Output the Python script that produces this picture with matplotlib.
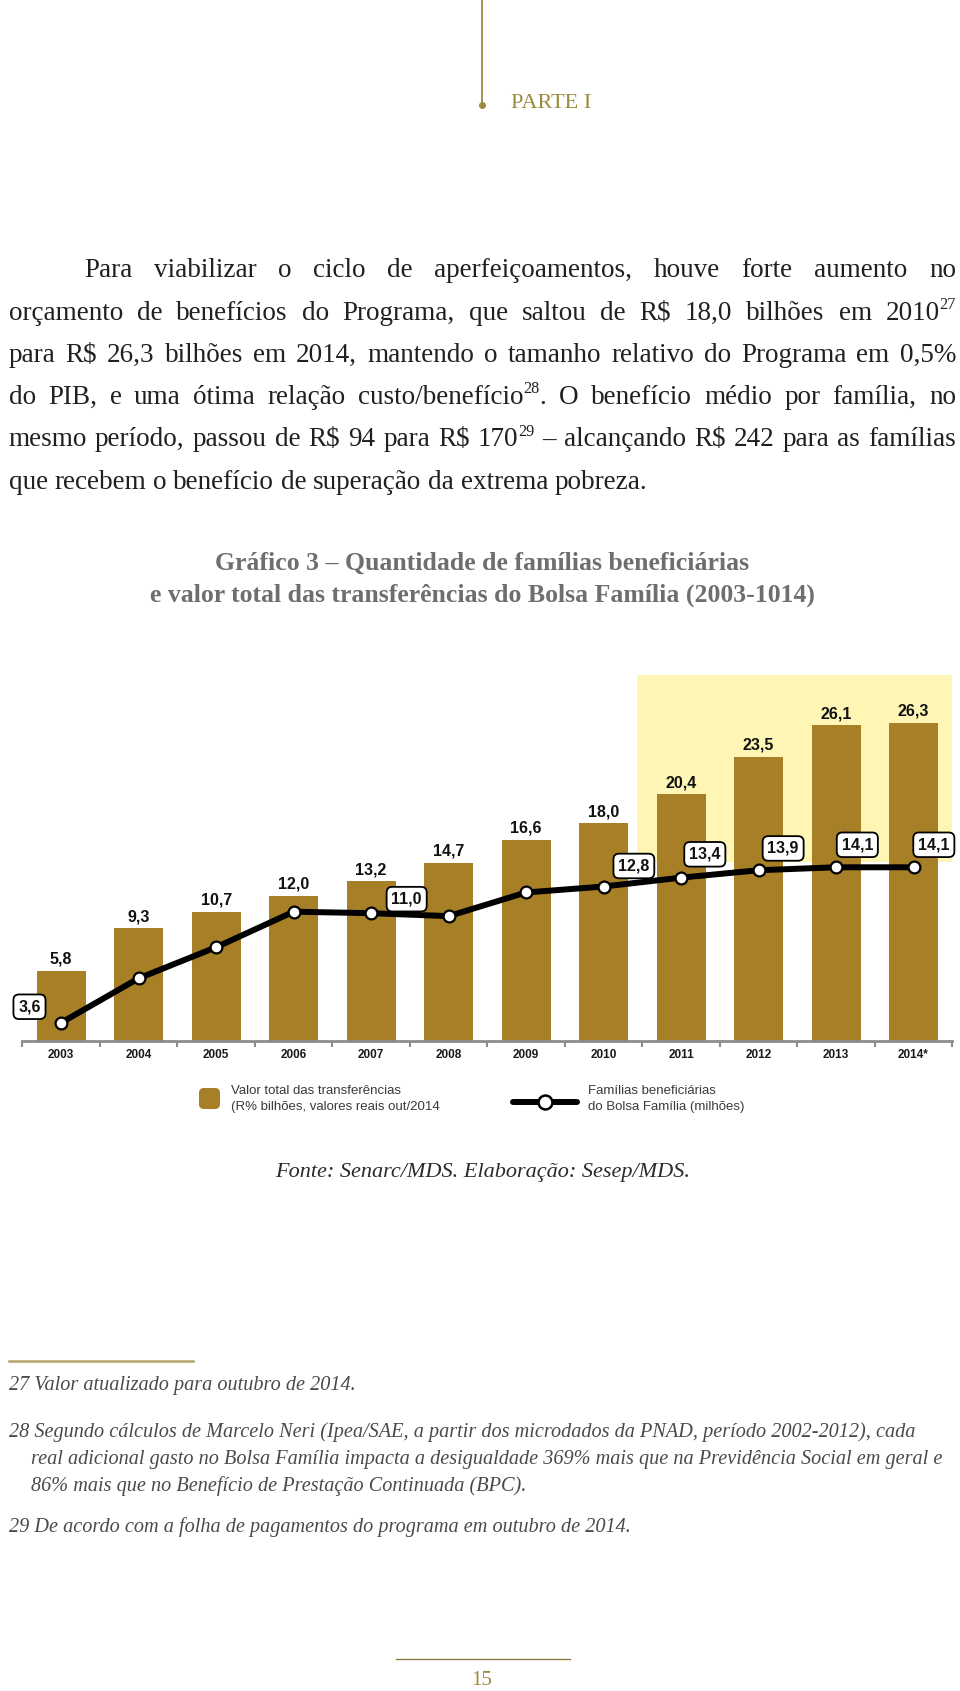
import re
import matplotlib as mpl
mpl.use('Agg')
import matplotlib.pyplot as plt
from matplotlib.patches import Rectangle, FancyBboxPatch
from matplotlib.lines import Line2D

# dados do grafico
anos = ['2003', '2004', '2005', '2006', '2007', '2008',
        '2009', '2010', '2011', '2012', '2013', '2014*']
valor_total = [5.8, 9.3, 10.7, 12.0, 13.2, 14.7, 16.6, 18.0, 20.4, 23.5, 26.1, 26.3]
familias = [3.6, 6.6, 8.7, 11.1, 11.0, 10.8, 12.4, 12.8, 13.4, 13.9, 14.1, 14.1]
familias_rotuladas = [0, 4, 7, 8, 9, 10, 11]

legenda_barra = 'Valor total das transferências\n(R% bilhões, valores reais out/2014'
legenda_linha = 'Famílias beneficiárias\ndo Bolsa Família (milhões)'

texto = [
    'Para viabilizar o ciclo de aperfeiçoamentos, houve forte aumento no',
    'orçamento de benefícios do Programa, que saltou de R$ 18,0 bilhões em 2010{27}',
    'para R$ 26,3 bilhões em 2014, mantendo o tamanho relativo do Programa em 0,5%',
    'do PIB, e uma ótima relação custo/benefício{28}. O benefício médio por família, no',
    'mesmo período, passou de R$ 94 para R$ 170{29} – alcançando R$ 242 para as famílias',
    'que recebem o benefício de superação da extrema pobreza.',
]
titulo = ['Gráfico 3 – Quantidade de famílias beneficiárias',
          'e valor total das transferências do Bolsa Família (2003-1014)']
fonte = 'Fonte: Senarc/MDS. Elaboração: Sesep/MDS.'
notas = [
    '27 Valor atualizado para outubro de 2014.',
    '28 Segundo cálculos de Marcelo Neri (Ipea/SAE, a partir dos microdados da PNAD, período 2002-2012), cada',
    'real adicional gasto no Bolsa Família impacta a desigualdade 369% mais que na Previdência Social em geral e',
    '86% mais que no Benefício de Prestação Continuada (BPC).',
    '29 De acordo com a folha de pagamentos do programa em outubro de 2014.',
]

GOLD = '#a67f27'
PAGE_GOLD = '#9c8a3c'
YELLOW = '#fff5b4'
SERIF = 'Liberation Serif'
SANS = 'Liberation Sans'

W, H = 960, 1691
fig = plt.figure(figsize=(W / 100, H / 100), dpi=100)
page = fig.add_axes([0, 0, 1, 1])
page.set_xlim(0, W)
page.set_ylim(H, 0)
page.axis('off')
renderer = fig.canvas.get_renderer()


def width(s, size, **kw):
    t = page.text(0, 0, s, fontsize=size, **kw)
    w = t.get_window_extent(renderer).width
    t.remove()
    return w


def pieces(word):
    parts = re.split(r'\{(\d+)\}', word)
    return [(p, i % 2 == 1) for i, p in enumerate(parts) if p]


def line_out(s, y, x0, x1, size, justify=True, **kw):
    words = s.split(' ')
    ws = []
    for w in words:
        ws.append(sum(width(p, size * 0.6 if sup else size, **kw)
                      for p, sup in pieces(w)))
    if justify and len(words) > 1:
        gap = (x1 - x0 - sum(ws)) / (len(words) - 1)
    else:
        gap = width('a a', size, **kw) - width('aa', size, **kw)
    x = x0
    for w, wd in zip(words, ws):
        for p, sup in pieces(w):
            sz = size * 0.6 if sup else size
            yy = y - size * 0.55 if sup else y
            page.text(x, yy, p, fontsize=sz, va='baseline', ha='left', **kw)
            x += width(p, sz, **kw)
        x += gap


# cabecalho
page.plot([482, 482], [0, 104], color=PAGE_GOLD, lw=1.3)
page.plot([482], [105], 'o', color=PAGE_GOLD, ms=4)
page.text(511, 108, 'PARTE I', fontsize=16, family=SERIF, color=PAGE_GOLD,
          va='baseline')

# paragrafo
base = [277, 319.5, 362, 404, 446.5, 489]
for i, (s, y) in enumerate(zip(texto, base)):
    x0 = 84 if i == 0 else 8.6
    line_out(s, y, x0, 956, 19.5, justify=(i < len(texto) - 1),
             family=SERIF, color='#231f20')

# titulo
for s, y in zip(titulo, [570, 602]):
    page.text(482, y, s, fontsize=18.5, family=SERIF, fontweight='bold',
              color='#6e6e6e', ha='center', va='baseline')

# grafico
l, r, t, b = 22.4, 952.3, 675, 1041
ax = fig.add_axes([l / W, (H - b) / H, (r - l) / W, (b - t) / H])
ax.set_facecolor('none')
x = list(range(len(anos)))
ax.add_patch(Rectangle((0.6612, 0.4883), 0.3388, 0.5117, transform=ax.transAxes,
                       facecolor=YELLOW, edgecolor='none', zorder=0))
ax.bar(x, valor_total, width=0.632, color=GOLD, zorder=2)
ax.set_xlim(-0.5, len(anos) - 0.5)
ax.set_ylim(0, 30.25)
for i, v in enumerate(valor_total):
    ax.annotate(f'{v:.1f}'.replace('.', ','), (i, v), xytext=(0, 3),
                textcoords='offset points', ha='center', va='bottom',
                fontsize=11.5, fontweight='bold', family=SANS, color='#111111')
for s in ['top', 'left', 'right']:
    ax.spines[s].set_visible(False)
ax.spines['bottom'].set_color('#8c8c8c')
ax.spines['bottom'].set_linewidth(2)
ax.set_yticks([])
ax.set_xticks(x)
ax.set_xticklabels(anos, fontsize=8.5, fontweight='bold', family=SANS, color='#1a1a1a')
ax.set_xticks([i - 0.5 for i in range(len(anos) + 1)], minor=True)
ax.tick_params(axis='x', which='major', length=0, pad=6)
ax.tick_params(axis='x', which='minor', length=4, width=1.5, color='#8c8c8c')

ax2 = ax.twinx()
ax2.set_ylim(2.365, 27.09)
ax2.plot(x, familias, color='black', lw=4.3, marker='o', ms=8.5,
         mfc='white', mec='black', mew=1.6, zorder=3, solid_capstyle='butt')
ax2.axis('off')
offsets = [(-22.8, 11.5), (25.6, 10.1), (21.8, 14.8), (17.1, 16.8),
           (17.7, 15.7), (15.3, 16.2), (14.6, 16.2)]
for i, off in zip(familias_rotuladas, offsets):
    ax2.annotate(f'{familias[i]:.1f}'.replace('.', ','), (i, familias[i]),
                 xytext=off, textcoords='offset points', ha='center', va='center',
                 fontsize=11.5, fontweight='bold', family=SANS, color='#111111',
                 bbox=dict(boxstyle='round,pad=0.3,rounding_size=0.35',
                           fc='white', ec='black', lw=1.3))

# legenda
page.add_patch(FancyBboxPatch((199, 1088), 21, 21,
                              boxstyle='round,pad=0,rounding_size=5',
                              fc=GOLD, ec='none'))
page.add_line(Line2D([513, 577], [1101.5, 1101.5], color='black', lw=4.3,
                     solid_capstyle='round'))
page.plot([545], [1101.5], 'o', ms=10, mfc='white', mec='black', mew=1.8)
for tx, s in [(231, legenda_barra), (588, legenda_linha)]:
    for k, ln in enumerate(s.split('\n')):
        page.text(tx, 1094 + 16 * k, ln, fontsize=9.5, family=SANS,
                  color='#3a3a3a', va='baseline')

page.text(483, 1177, fonte, fontsize=16, family=SERIF, style='italic',
          color='#2a2a2a', ha='center', va='baseline')

# notas de rodape
page.plot([8.6, 193], [1361, 1361], color='#b4a46a', lw=1.8)
notas_y = [1390, 1437, 1464, 1491, 1532]
notas_x = [8.6, 8.6, 31, 31, 8.6]
for s, y, xx in zip(notas, notas_y, notas_x):
    page.text(xx, y, s, fontsize=14.6, family=SERIF, style='italic',
              color='#4a4a4a', va='baseline')

# numero da pagina
page.plot([396, 570], [1659, 1659], color='#8a7d45', lw=1)
page.text(482, 1685, '15', fontsize=15, family=SERIF, color=PAGE_GOLD,
          ha='center', va='baseline')

fig.savefig('out.png', dpi=100)
